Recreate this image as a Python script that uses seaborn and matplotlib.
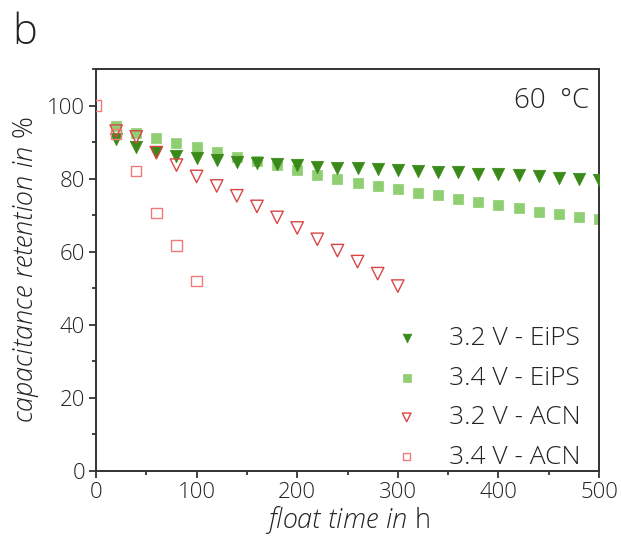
import numpy as np
import pandas as pd
import matplotlib
matplotlib.use("Agg")
import matplotlib.pyplot as plt
import seaborn as sns
from matplotlib.ticker import MultipleLocator

# ---- data ----
t_eips = [20, 40, 60, 80, 100, 120, 140, 160, 180, 200, 220, 240, 260, 280,
          300, 320, 340, 360, 380, 400, 420, 440, 460, 480, 500]
v32_eips = [90.8, 88.6, 87.2, 86.3, 85.6, 85.0, 84.6, 84.3, 84.0, 83.6, 83.3,
            83.0, 82.8, 82.6, 82.3, 82.1, 81.9, 81.7, 81.4, 81.2, 81.0, 80.6, 80.3,
            79.9, 79.5]
v34_eips = [94.3, 92.6, 91.0, 89.8, 88.6, 87.3, 86.0, 84.8, 83.6, 82.4, 81.1,
            80.0, 78.9, 77.9, 77.1, 76.2, 75.4, 74.4, 73.6, 72.8, 71.9, 71.0, 70.2,
            69.5, 68.9]
t_acn32 = [20, 40, 60, 80, 100, 120, 140, 160, 180, 200, 220, 240, 260, 280, 300]
v32_acn = [93.0, 91.4, 87.1, 83.7, 80.6, 78.0, 75.3, 72.4, 69.4, 66.5, 63.4,
           60.3, 57.3, 54.0, 50.6]
t_acn34 = [0, 20, 40, 60, 80, 100]
v34_acn = [100, 92.3, 82.0, 70.6, 61.7, 51.9]

labels = ["3.2 V - EiPS", "3.4 V - EiPS", "3.2 V - ACN", "3.4 V - ACN"]
x_ticks = [0, 100, 200, 300, 400, 500]
y_ticks = [0, 20, 40, 60, 80, 100]

sns.set_theme(style="ticks")
plt.rcParams["font.family"] = ["Open Sans", "DejaVu Sans"]
plt.rcParams["font.weight"] = "light"
plt.rcParams["mathtext.fontset"] = "custom"
plt.rcParams["mathtext.rm"] = "Open Sans:weight=light"
plt.rcParams["mathtext.it"] = "Open Sans:slant=italic:weight=light"

fig = plt.figure(figsize=(6.21, 5.37), dpi=100)
ax = fig.add_axes([96 / 621, 66 / 537, 503 / 621, 402 / 537])

dark_green = "#3a8a1a"
light_green = "#8fcf72"
red_tri = "#d94545"
red_sq = "#f27a7a"
txt_c = "#222222"

sns.scatterplot(x=t_eips, y=v32_eips, marker="v", s=80, color=dark_green,
                edgecolor=dark_green, linewidth=0.5, label=labels[0], ax=ax, zorder=3)
sns.scatterplot(x=t_eips, y=v34_eips, marker="s", s=55, color=light_green,
                edgecolor=light_green, linewidth=0.5, label=labels[1], ax=ax, zorder=2)
sns.scatterplot(x=t_acn32, y=v32_acn, marker="v", s=80, facecolor="none",
                edgecolor=red_tri, linewidth=1.0, label=labels[2], ax=ax, zorder=4)
sns.scatterplot(x=t_acn34, y=v34_acn, marker="s", s=55, facecolor="none",
                edgecolor=red_sq, linewidth=1.0, label=labels[3], ax=ax, zorder=4)

ax.set_xlim(0, 500)
ax.set_ylim(0, 110)
ax.set_xticks(x_ticks)
ax.set_yticks(y_ticks)
ax.xaxis.set_minor_locator(MultipleLocator(50))
ax.yaxis.set_minor_locator(MultipleLocator(10))
ax.tick_params(which="major", direction="out", length=5, width=1.2,
               labelsize=16, colors=txt_c, pad=3)
ax.tick_params(which="minor", direction="out", length=3, width=1.2, colors=txt_c)
ax.tick_params(top=False, right=False, which="both")
for sp in ax.spines.values():
    sp.set_linewidth(1.4)
    sp.set_color("#333333")
    sp.set_visible(True)

ax.set_xlabel(r"$\it{float\ time\ in}\ \rm{h}$", fontsize=19.5, color=txt_c, labelpad=1)
ax.set_ylabel(r"$\it{capacitance\ retention\ in}\ \rm{\%}$", fontsize=19.5, color=txt_c,
              labelpad=4)

ax.text(0.98, 0.955, "60  °C", transform=ax.transAxes, ha="right", va="top",
        fontsize=20, color=txt_c)
fig.text(12 / 621, 1 - 33 / 537, "b", fontsize=30, color=txt_c, ha="left", va="center")

leg = ax.legend(loc="lower right", bbox_to_anchor=(1.0, -0.043), frameon=False,
                fontsize=19, markerscale=0.7, labelspacing=0.55, handletextpad=1.1,
                handlelength=1.0, borderaxespad=0.3)
for txt in leg.get_texts():
    txt.set_color(txt_c)

fig.savefig("out.png", dpi=100)
